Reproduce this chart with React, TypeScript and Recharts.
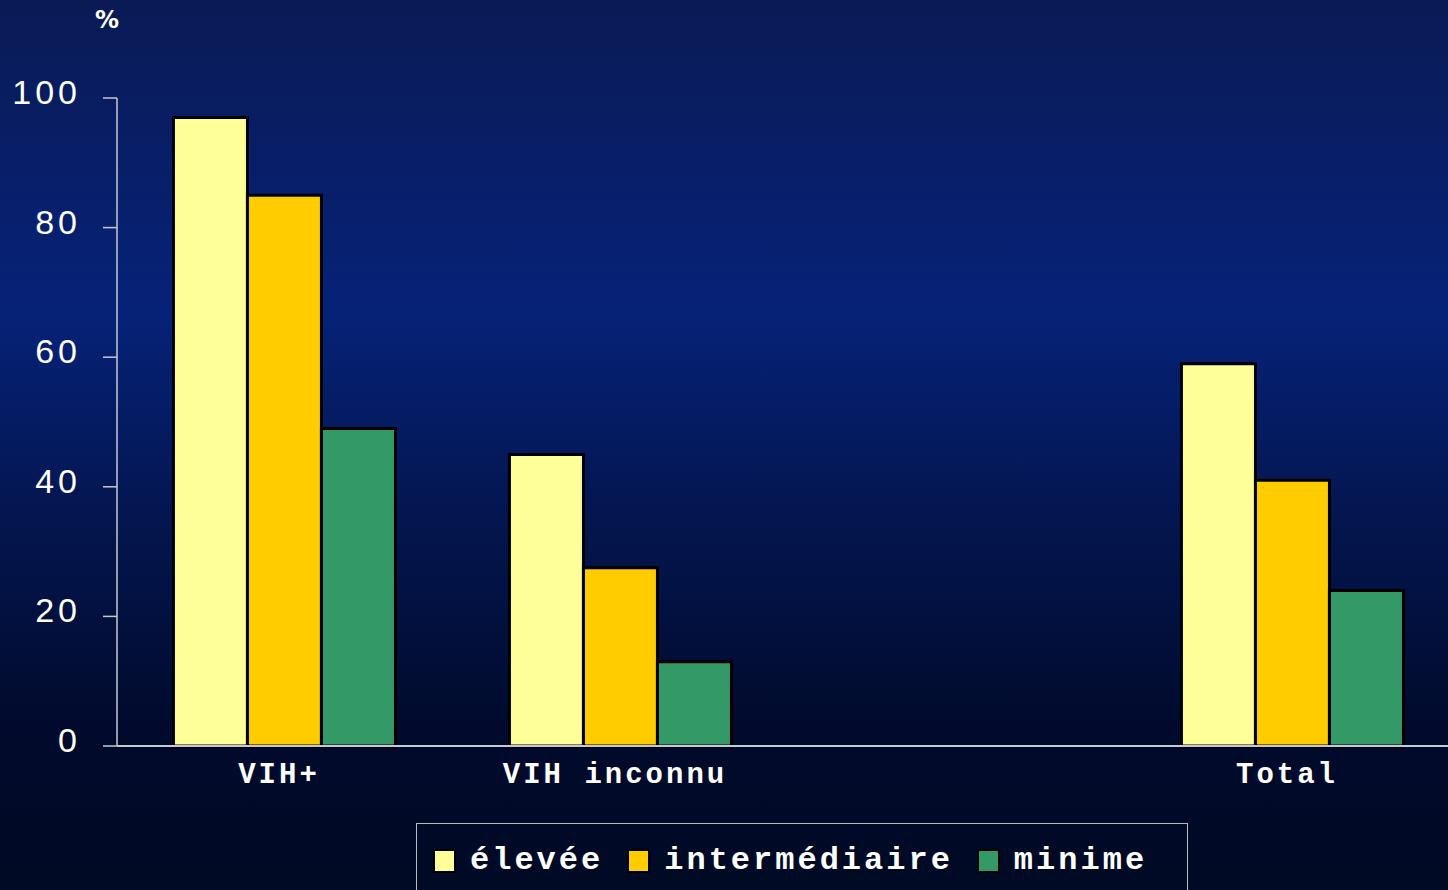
import React from 'react';
import { BarChart, Bar, XAxis, YAxis } from 'recharts';

const categories = ['VIH+', 'VIH inconnu', '', 'Total'];
const eleveeValues = [97, 45, null, 59];
const intermediaireValues = [85, 27.5, null, 41];
const minimeValues = [49, 13, null, 24];
const yTicks = [0, 20, 40, 60, 80, 100];

const seriesNames = ['élevée', 'intermédiaire', 'minime'];
const seriesColors = ['#FFFF99', '#FFCC00', '#339966'];

const data = categories.map((name, i) => ({
    name,
    elevee: eleveeValues[i],
    intermediaire: intermediaireValues[i],
    minime: minimeValues[i],
}));

const monoFont = '"Liberation Mono", "DejaVu Sans Mono", monospace';

const CategoryTick: React.FC<any> = ({ x, y, payload }) => (
    <text
        x={x - 6}
        y={y + 29}
        textAnchor="middle"
        fill="#ffffff"
        fontFamily={monoFont}
        fontWeight="bold"
        fontSize={29}
        letterSpacing={3}
    >
        {payload.value}
    </text>
);

const ValueTick: React.FC<any> = ({ x, y, payload }) => (
    <text
        x={x}
        y={y + 6}
        textAnchor="end"
        fill="#ffffff"
        fontFamily='"Liberation Sans", Arial, sans-serif'
        fontSize={34}
        letterSpacing={4}
    >
        {payload.value}
    </text>
);

const ChartLegend: React.FC = () => (
    <div
        style={{
            position: 'absolute',
            left: 416,
            top: 823,
            width: 772,
            height: 80,
            border: '1px solid #b8b8c0',
            borderBottom: 'none',
            boxSizing: 'border-box',
            display: 'flex',
            alignItems: 'flex-start',
            paddingTop: 21,
            paddingLeft: 16,
        }}
    >
        {seriesNames.map((s, i) => (
            <div key={s} style={{ display: 'flex', alignItems: 'center', marginRight: 24 }}>
                <span
                    style={{
                        width: 19,
                        height: 20,
                        background: seriesColors[i],
                        border: '2px solid #000',
                        display: 'inline-block',
                        marginRight: 14,
                    }}
                />
                <span
                    style={{
                        color: '#fff',
                        fontFamily: monoFont,
                        fontWeight: 'bold',
                        fontSize: 32,
                        letterSpacing: 3,
                        lineHeight: '32px',
                    }}
                >
                    {s}
                </span>
            </div>
        ))}
    </div>
);

export default function App() {
    return (
        <div
            style={{
                position: 'fixed',
                left: 0,
                top: 0,
                width: 1448,
                height: 890,
                overflow: 'hidden',
                background:
                    'linear-gradient(to bottom, #0a1a55 0%, #062278 35%, #041650 58%, #010a2c 82%, #000a24 100%)',
            }}
        >
            <div
                style={{
                    position: 'absolute',
                    left: 95,
                    top: 6,
                    color: '#fff',
                    fontFamily: '"DejaVu Sans", sans-serif',
                    fontWeight: 'bold',
                    fontSize: 24,
                }}
            >
                %
            </div>
            <BarChart
                width={1470}
                height={890}
                data={data}
                margin={{ top: 98, right: 9, left: 0, bottom: 0 }}
                barCategoryGap="16.8%"
                barGap={0}
            >
                <XAxis
                    dataKey="name"
                    height={144}
                    tickLine={false}
                    axisLine={{ stroke: '#c8c8d0', strokeWidth: 2 }}
                    tick={<CategoryTick />}
                    interval={0}
                />
                <YAxis
                    width={117}
                    domain={[0, 100]}
                    ticks={yTicks}
                    tickSize={14}
                    tickLine={{ stroke: '#c8c8d0', strokeWidth: 1.5 }}
                    axisLine={{ stroke: '#c8c8d0', strokeWidth: 1.5 }}
                    tick={<ValueTick />}
                    tickMargin={22}
                />
                <Bar dataKey="elevee" name={seriesNames[0]} fill={seriesColors[0]} stroke="#000" strokeWidth={3} isAnimationActive={false} />
                <Bar dataKey="intermediaire" name={seriesNames[1]} fill={seriesColors[1]} stroke="#000" strokeWidth={3} isAnimationActive={false} />
                <Bar dataKey="minime" name={seriesNames[2]} fill={seriesColors[2]} stroke="#000" strokeWidth={3} isAnimationActive={false} />
            </BarChart>
            <ChartLegend />
        </div>
    );
}
